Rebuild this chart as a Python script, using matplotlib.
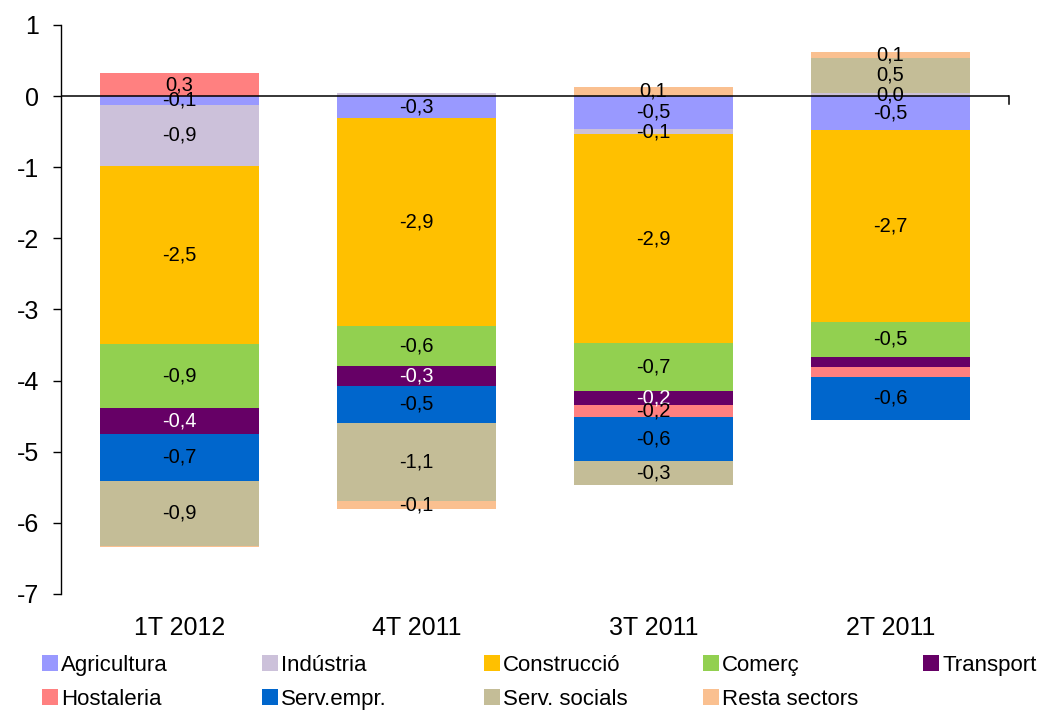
import numpy as np
import matplotlib
import matplotlib.pyplot as plt
from matplotlib.patches import Patch

matplotlib.use("Agg")
plt.rcParams['font.family'] = ['Liberation Sans', 'DejaVu Sans']
plt.rcParams['axes.unicode_minus'] = False

# dades
categories = ['1T 2012', '4T 2011', '3T 2011', '2T 2011']
series_names = ['Agricultura', 'Indústria', 'Construcció', 'Comerç', 'Transport',
                'Hostaleria', 'Serv.empr.', 'Serv. socials', 'Resta sectors']
agricultura = [-0.12, -0.31, -0.46, -0.48]
industria = [-0.86, 0.04, -0.08, 0.04]
construccio = [-2.50, -2.92, -2.93, -2.69]
comerc = [-0.91, -0.56, -0.67, -0.50]
transport = [-0.36, -0.28, -0.20, -0.14]
hostaleria = [0.32, 0.0, -0.17, -0.14]
serv_empr = [-0.66, -0.52, -0.62, -0.60]
serv_socials = [-0.91, -1.11, -0.34, 0.50]
resta = [-0.02, -0.10, 0.13, 0.08]
values = [agricultura, industria, construccio, comerc, transport,
          hostaleria, serv_empr, serv_socials, resta]
# etiquetes que no es mostren (serie, barra)
hidden = {(8, 0), (1, 1), (5, 1), (4, 3), (5, 3)}

colors = ['#9999FF', '#CCC1DA', '#FFC000', '#92D050', '#660066',
          '#FF8080', '#0066CC', '#C4BD97', '#FAC090']
label_colors = ['black'] * 9
label_colors[4] = 'white'

fig = plt.figure(figsize=(10.53, 7.13), dpi=100)
ax = fig.add_axes([0.058, 0.167, 0.9, 0.798])

x = np.arange(len(categories))
pos_bottom = np.zeros(len(categories))
neg_bottom = np.zeros(len(categories))
for i, vals in enumerate(values):
    v = np.array(vals)
    bottom = np.where(v >= 0, pos_bottom, neg_bottom)
    ax.bar(x, v, 0.67, bottom=bottom, color=colors[i], linewidth=0)
    for j in range(len(v)):
        if (i, j) in hidden:
            continue
        txt = f"{v[j]:.1f}".replace('.', ',')
        ax.text(x[j], bottom[j] + v[j] / 2, txt, ha='center', va='center',
                fontsize=14.5, color=label_colors[i])
    pos_bottom = pos_bottom + np.where(v >= 0, v, 0)
    neg_bottom = neg_bottom + np.where(v < 0, v, 0)

ax.set_xlim(-0.5, 3.5)
ax.set_ylim(-7, 1)
ax.set_yticks(range(-7, 2))
ax.tick_params(axis='y', labelsize=18, length=6, width=1, pad=10)
ax.set_xticks(x)
ax.set_xticklabels(categories)
ax.tick_params(axis='x', labelsize=18, length=0, pad=16)
for s in ['top', 'right', 'bottom']:
    ax.spines[s].set_visible(False)
ax.spines['left'].set_linewidth(1)
ax.axhline(0, color='black', linewidth=1.1)
ax.plot([3.5, 3.5], [0, -0.11], color='black', linewidth=1.1, clip_on=False)

# llegenda en dues files
handles = [Patch(facecolor=c, edgecolor='none') for c in colors]
rows = [[0, 1, 2, 3, 4], [5, 6, 7, 8]]
col_x = [0.040, 0.249, 0.460, 0.668, 0.877]
row_y = [0.067, 0.019]
for r, idxs in enumerate(rows):
    for c, k in enumerate(idxs):
        fig.legend([handles[k]], [series_names[k]], loc='center left',
                   bbox_to_anchor=(col_x[c], row_y[r]), frameon=False,
                   fontsize=16, handlelength=0.7, handleheight=0.7,
                   handletextpad=0.15, borderpad=0, borderaxespad=0)

plt.savefig("out.png", dpi=100)
